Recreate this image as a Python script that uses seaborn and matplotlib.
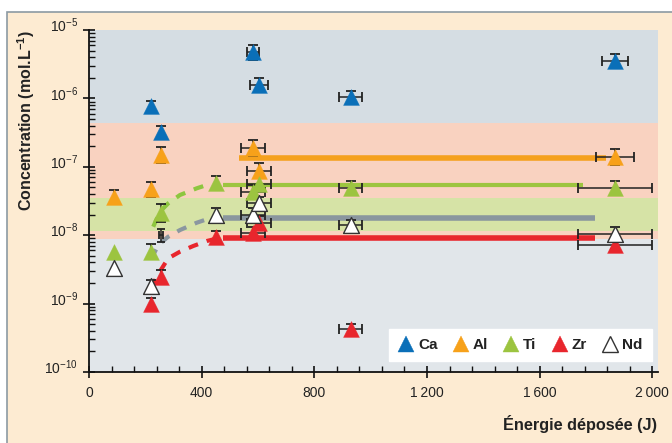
import matplotlib
matplotlib.use("Agg")
import matplotlib.pyplot as plt
import matplotlib.transforms as mtransforms
import seaborn as sns
import numpy as np
import pandas as pd
from matplotlib.lines import Line2D
from matplotlib.patches import Rectangle
from matplotlib.ticker import MultipleLocator, FixedLocator, NullFormatter, LogFormatterSciNotation

# measured points: energy (J), concentration (mol/L), x error (J), y error factor
ca_energy = [221, 255, 582, 603, 929, 1867]
ca_conc = [7.7e-7, 3.2e-7, 4.7e-6, 1.57e-6, 1.06e-6, 3.56e-6]
ca_xerr = [0, 0, 20, 31, 40, 45]
ca_yfac = [1.2, 1.25, 1.3, 1.25, 1.2, 1.25]

al_energy = [89, 221, 255, 582, 603, 1867]
al_conc = [3.66e-8, 4.68e-8, 1.48e-7, 1.9e-7, 8.8e-8, 1.38e-7]
al_xerr = [0, 0, 0, 43, 43, 67]
al_yfac = [1.25, 1.3, 1.3, 1.3, 1.3, 1.3]

ti_energy = [89, 221, 255, 451, 582, 603, 929, 1867]
ti_conc = [5.75e-9, 5.75e-9, 2.09e-8, 5.86e-8, 4.33e-8, 5.6e-8, 4.9e-8, 4.9e-8]
ti_xerr = [0, 0, 0, 0, 43, 43, 40, 130]
ti_yfac = [1.0, 1.3, 1.35, 1.25, 1.25, 1.25, 1.25, 1.25]

zr_energy = [221, 255, 451, 582, 603, 929, 1867]
zr_conc = [1.0e-9, 2.47e-9, 9.3e-9, 1.07e-8, 1.52e-8, 4.2e-10, 7.2e-9]
zr_xerr = [0, 0, 0, 43, 43, 40, 130]
zr_yfac = [1.2, 1.25, 1.25, 1.25, 1.25, 1.2, 1.15]

nd_energy = [89, 221, 451, 582, 603, 929, 1867]
nd_conc = [3.3e-9, 1.8e-9, 1.97e-8, 1.97e-8, 2.92e-8, 1.41e-8, 1.05e-8]
nd_xerr = [0, 0, 0, 43, 43, 40, 130]
nd_yfac = [1.0, 1.25, 1.25, 1.25, 1.25, 1.2, 1.25]

# lone error bar near 255 J (no visible marker)
extra_energy = [255]
extra_conc = [1.0e-8]

# plateau levels
plateau_al = ([533, 1835], [1.36e-7, 1.36e-7])
plateau_ti = ([477, 1752], [5.5e-8, 5.5e-8])
plateau_nd = ([477, 1796], [1.8e-8, 1.8e-8])
plateau_zr = ([477, 1796], [9.2e-9, 9.2e-9])

# dashed rise curves
rise_ti_e = [228, 252, 281, 323, 382, 429]
rise_ti_c = [1.33e-8, 2.21e-8, 2.92e-8, 3.87e-8, 4.84e-8, 5.61e-8]
rise_nd_e = [222, 246, 281, 323, 382, 429]
rise_nd_c = [4.59e-9, 7.19e-9, 9.5e-9, 1.19e-8, 1.52e-8, 1.77e-8]
rise_zr_e = [222, 240, 281, 323, 370, 418, 447]
rise_zr_c = [1.67e-9, 2.47e-9, 4.59e-9, 5.74e-9, 6.95e-9, 8.22e-9, 8.8e-9]

# background bands (concentration limits)
band_limits = [1e-10, 8.7e-9, 1.15e-8, 3.5e-8, 4.4e-7, 1e-5]
band_colors = ["#e1e6ea", "#f9d2c0", "#d6e3a6", "#f9d2c0", "#d5dde3"]

xticks = [0, 400, 800, 1200, 1600, 2000]
xtick_labels = ["0", "400", "800", "1\u2009200", "1\u2009600", "2\u2009000"]
yticks = [1e-10, 1e-9, 1e-8, 1e-7, 1e-6, 1e-5]

sns.set_theme(style="ticks")
plt.rcParams['font.family'] = ['Liberation Sans', 'DejaVu Sans']
plt.rcParams['mathtext.fontset'] = 'custom'
plt.rcParams['mathtext.rm'] = 'Liberation Sans'
plt.rcParams['mathtext.it'] = 'Liberation Sans'
plt.rcParams['mathtext.bf'] = 'Liberation Sans:bold'

fig = plt.figure(figsize=(6.72, 4.43), dpi=100, facecolor="white")
fig.patches.append(Rectangle((7 / 672, -0.1), 1.2, 1 - 12 / 443 + 0.1,
                             transform=fig.transFigure, facecolor="#fdebd2",
                             edgecolor="#8c9aa3", linewidth=1.2, zorder=-10))

ax = fig.add_axes([89 / 672, 71 / 443, (658 - 89) / 672, (372 - 30) / 443])
ax.set_facecolor("none")
ax.set_yscale("log")
ax.set_xlim(0, 2020)
ax.set_ylim(1e-10, 1e-5)

for lo, hi, col in zip(band_limits[:-1], band_limits[1:], band_colors):
    ax.axhspan(lo, hi, color=col, lw=0, zorder=0)

# plateaus
for (xs, ys), col, lw in [(plateau_al, "#f5a11e", 4), (plateau_ti, "#9dc540", 3),
                         (plateau_nd, "#8a969e", 4), (plateau_zr, "#e8262d", 4)]:
    sns.lineplot(x=xs, y=ys, color=col, lw=lw, ax=ax, zorder=2, solid_capstyle="butt")

# rise curves
for xs, ys, col in [(rise_ti_e, rise_ti_c, "#8dc63f"), (rise_nd_e, rise_nd_c, "#8b97a0"),
                    (rise_zr_e, rise_zr_c, "#e8262d")]:
    ax.plot(xs, ys, color=col, lw=3, ls=(0, (2.4, 2.2)), zorder=2)

elements = [
    ("Ca", ca_energy, ca_conc, ca_xerr, ca_yfac, "#0a6fb8", "#0a6fb8"),
    ("Al", al_energy, al_conc, al_xerr, al_yfac, "#f7a11a", "#f7a11a"),
    ("Ti", ti_energy, ti_conc, ti_xerr, ti_yfac, "#9cc440", "#9cc440"),
    ("Zr", zr_energy, zr_conc, zr_xerr, zr_yfac, "#e8262d", "#e8262d"),
    ("Nd", nd_energy, nd_conc, nd_xerr, nd_yfac, "white", "#333333"),
]

for name, e, c, xe, yf, fc, ec in elements:
    e = np.array(e, float)
    c = np.array(c, float)
    yf = np.array(yf, float)
    yerr = np.vstack([c - c / yf, c * yf - c])
    xerr = np.array(xe, float)
    ax.errorbar(e, c, xerr=np.where(xerr > 0, xerr, np.nan), fmt="none",
                ecolor="#222222", elinewidth=1.1, capsize=3.5, capthick=1.3, zorder=3)
    ax.errorbar(e, c, yerr=np.where(yf > 1, yerr, np.nan), fmt="none",
                ecolor="#222222", elinewidth=1.1, capsize=3.5, capthick=1.3, zorder=3)
    df = pd.DataFrame({"energy": e, "conc": c})
    sns.scatterplot(data=df, x="energy", y="conc", marker="^", s=130, color=fc,
                    edgecolor=ec, linewidth=1.0 if name == "Nd" else 0.3, ax=ax, zorder=4)

ax.errorbar(extra_energy, extra_conc, xerr=[8], yerr=[[2e-9], [2.5e-9]], fmt="none",
            ecolor="#222222", elinewidth=1.1, capsize=3, capthick=1.3, zorder=3)

ax.set_xlabel("")
ax.set_ylabel("")
ax.set_xticks(xticks)
ax.set_xticklabels(xtick_labels)
ax.xaxis.set_minor_locator(MultipleLocator(80))
ax.yaxis.set_major_locator(FixedLocator(yticks))
ax.yaxis.set_major_formatter(LogFormatterSciNotation())
minor_y = [m * 10.0 ** k for k in range(-10, -5) for m in range(2, 10)]
ax.yaxis.set_minor_locator(FixedLocator(minor_y))
ax.yaxis.set_minor_formatter(NullFormatter())

for side in ["top", "right"]:
    ax.spines[side].set_visible(False)
for side in ["left", "bottom"]:
    ax.spines[side].set_color("#111111")
    ax.spines[side].set_linewidth(1.3)
    ax.spines[side].set_zorder(6)

ax.tick_params(which="major", direction="inout", length=8, width=1.2, color="#111111",
               labelsize=10, labelcolor="#222222")
ax.tick_params(which="minor", direction="in", length=4, width=1.0, color="#111111")
ax.tick_params(axis="x", which="major", pad=6)
ax.tick_params(axis="y", which="major", pad=4)

offset = mtransforms.ScaledTranslation(0, 4 / 72, fig.dpi_scale_trans)
for lab in ax.get_yticklabels():
    lab.set_transform(lab.get_transform() + offset)

handles = [Line2D([], [], ls="none", marker="^", markersize=11, markerfacecolor=fc,
                  markeredgecolor=ec, markeredgewidth=1.0 if n == "Nd" else 0.3)
           for n, _, _, _, _, fc, ec in elements]
labels = [n for n, *_ in elements]
leg = ax.legend(handles, labels, ncol=5, loc="lower right", bbox_to_anchor=(0.989, 0.032),
                borderaxespad=0, frameon=True, fancybox=False, framealpha=1,
                edgecolor="white", handlelength=1.0, handletextpad=0.3,
                columnspacing=1.0, borderpad=0.6,
                prop={"weight": "bold", "size": 11})
leg.set_zorder(7)
for t in leg.get_texts():
    t.set_color("#222222")

fig.text(0.039, 1 - 30 / 443, r"Concentration (mol.L$^{\mathbf{-1}}$)", rotation=90,
         ha="center", va="top", fontsize=11.5, fontweight="bold", color="#222222")
fig.text(657 / 672, 1 - 424 / 443, "Énergie déposée (J)", ha="right", va="center",
         fontsize=11.7, fontweight="bold", color="#222222")

fig.savefig("out.png", dpi=100, facecolor="white")
